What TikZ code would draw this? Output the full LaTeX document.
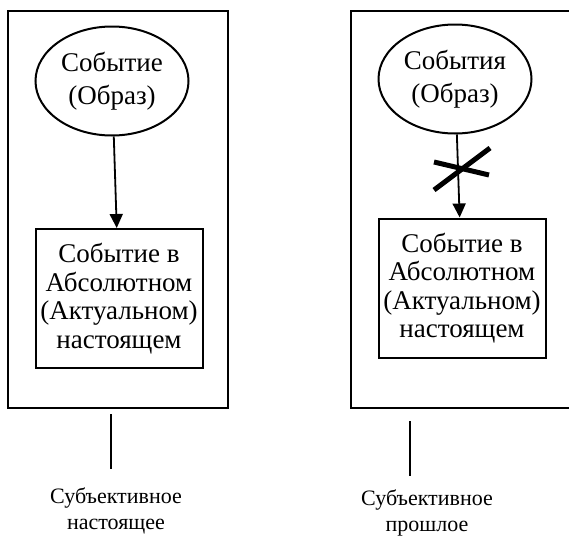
\documentclass[tikz,border=0pt]{standalone}
\usepackage{fontspec}
\setmainfont{Liberation Serif}
\usepackage{tikz}
\usetikzlibrary{arrows.meta,shapes.geometric,calc}

\begin{document}
\begin{tikzpicture}[
  x=1pt, y=-1pt,
  frame/.style={draw, line width=2.4pt, inner sep=0pt},
  image/.style={draw, ellipse, line width=2pt, inner sep=0pt,
                minimum width=153pt, minimum height=109pt, align=center,
                font=\fontsize{27}{33}\selectfont},
  event/.style={draw, line width=2pt, inner sep=0pt,
                minimum width=167pt, minimum height=139pt, align=center,
                font=\fontsize{27}{28.5}\selectfont},
  caption/.style={align=center, inner sep=0pt, font=\fontsize{22}{26}\selectfont},
  arr/.style={-{Triangle[length=14pt,width=13pt]}, line width=1.8pt},
  stub/.style={line width=1.3pt},
  cross/.style={line width=5pt}
]
\useasboundingbox (0,0) rectangle (569,538);
\clip (0,0) rectangle (569,538);

\node[frame, minimum width=220pt, minimum height=397pt] (frameL) at (118,209.5) {};
\node[frame, minimum width=226pt, minimum height=397pt] (frameR) at (464,209.5) {};

\node[image] (imgL) at (112,81) {Событие\\(Образ)};
\node[event] (evL) at (119,298.5) {Событие в\\Абсолютном\\(Актуальном)\\настоящем};
\node[image] (imgR) at (455,79) {События\\(Образ)};
\node[event] (evR) at (462,288) {Событие в\\Абсолютном\\(Актуальном)\\настоящем};

\draw[arr] (imgL) -- (evL);
\draw[arr] (imgR) -- (evR);

\coordinate (xmark) at (461,169);
\draw[cross] ($(xmark)+(-27,21)$) -- ($(xmark)+(29,-21)$);
\draw[cross] ($(xmark)+(-27,-7)$) -- ($(xmark)+(28,6)$);

\node[caption] (capL) at (116,511) {Субъективное\\настоящее};
\node[caption] (capR) at (427,513) {Субъективное\\прошлое};

\coordinate (stubLtop) at (111,414);
\coordinate (stubLbot) at (111,469);
\coordinate (stubRtop) at (410,421);
\coordinate (stubRbot) at (410,476);
\draw[stub] (stubLtop) -- (stubLbot);
\draw[stub] (stubRtop) -- (stubRbot);
\end{tikzpicture}
\end{document}
